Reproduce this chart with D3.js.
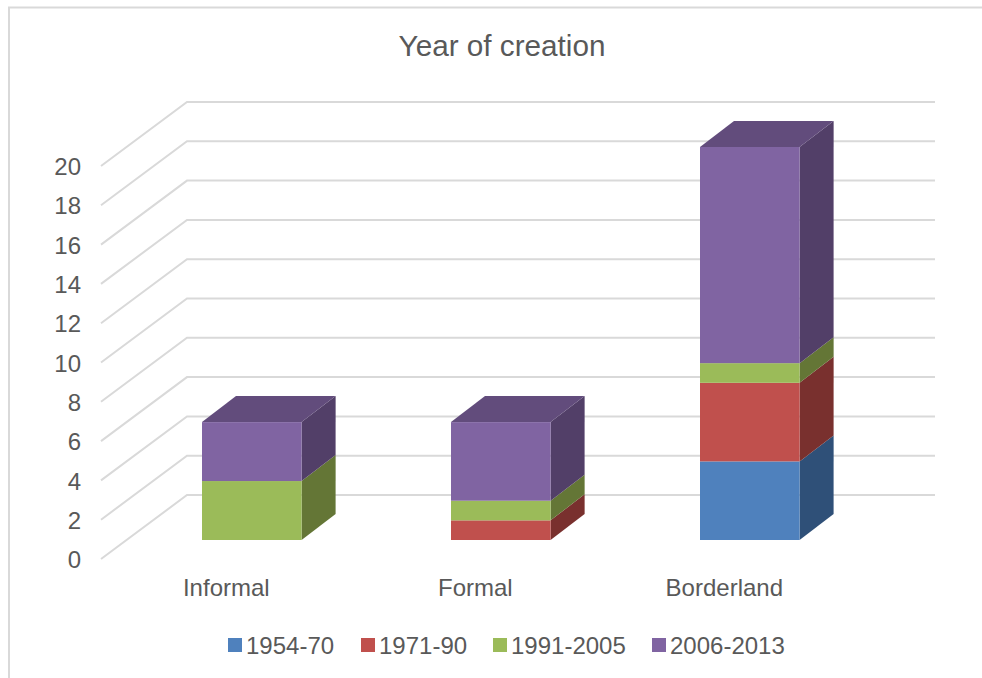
<!DOCTYPE html>
<html><head><meta charset="utf-8">
<script src="https://cdn.jsdelivr.net/npm/d3@7/dist/d3.min.js"></script>
<style>html,body{margin:0;padding:0;background:#fff}svg{display:block}text{font-family:"Liberation Sans",Arial,sans-serif;fill:#595959}</style>
</head><body><svg id="c" width="982" height="678"></svg>
<script>
const title = "Year of creation";
const categories = ["Informal", "Formal", "Borderland"];
const seriesNames = ["1954-70", "1971-90", "1991-2005", "2006-2013"];
const s1954 = [0, 0, 4];
const s1971 = [0, 1, 4];
const s1991 = [3, 1, 1];
const s2006 = [3, 4, 11];
const seriesValues = [s1954, s1971, s1991, s2006];
const yTicks = [0, 2, 4, 6, 8, 10, 12, 14, 16, 18, 20];
const colFront = ["#4f81bd", "#c0504d", "#9bbb59", "#8064a2"];
const colSide = ["#2f5078", "#79302e", "#647636", "#523f68"];
const colTop = ["#3b659a", "#9a3f3d", "#7c9647", "#624c7c"];

const svg = d3.select("#c");
// frame
svg.append("path").attr("d", "M9,678V7.5H982").attr("fill", "none").attr("stroke", "#d9d9d9").attr("stroke-width", 2);

const y = d3.scaleLinear().domain([0, 20]).range([540, 147]);
const x = d3.scaleBand().domain(categories).range([127.3, 874.3]).paddingInner(0.6).paddingOuter(0.3);
// wall: front edge and back edge of the 3D walls
const wallFrontX = 101, wallBackX = 187, wallRight = 935, wallBackDy = -45, wallFrontDy = 19;
const barDx = 34, barDy = -26;

const grid = svg.append("g").attr("fill", "none").attr("stroke", "#d9d9d9").attr("stroke-width", 2);
yTicks.forEach(t => {
  const yy = y(t);
  grid.append("path").attr("d", `M${wallFrontX},${yy + wallFrontDy}L${wallBackX},${yy + wallBackDy}H${wallRight}`);
});

const bars = svg.append("g");
categories.forEach((c, i) => {
  let acc = 0, topIdx = -1;
  const x0 = x(c), w = x.bandwidth();
  seriesValues.forEach((vals, s) => {
    const v = vals[i];
    if (!v) return;
    const yb = y(acc), yt = y(acc + v);
    bars.append("path").attr("fill", colSide[s])
      .attr("d", `M${x0 + w},${yb}L${x0 + w + barDx},${yb + barDy}V${yt + barDy}L${x0 + w},${yt}Z`);
    bars.append("rect").attr("fill", colFront[s]).attr("x", x0).attr("y", yt).attr("width", w).attr("height", yb - yt);
    acc += v; topIdx = s;
  });
  const yt = y(acc);
  bars.append("path").attr("fill", colTop[topIdx])
    .attr("d", `M${x0},${yt}L${x0 + barDx},${yt + barDy}H${x0 + w + barDx}L${x0 + w},${yt}Z`);
});

// axes
const yAxisScale = y.copy().range([y(0) + wallFrontDy + 1, y(20) + wallFrontDy + 1]);
const ya = svg.append("g").attr("transform", "translate(84,0)")
  .call(d3.axisLeft(yAxisScale).tickValues(yTicks).tickSize(0).tickPadding(3));
ya.select(".domain").remove();
ya.selectAll("text").style("font-family", '"Liberation Sans",Arial,sans-serif').style("font-size", "24px").attr("fill", "#595959");

const xa = svg.append("g").attr("transform", "translate(-25.5,579)")
  .call(d3.axisBottom(x).tickSize(0).tickPadding(0));
xa.select(".domain").remove();
xa.selectAll("text").style("font-family", '"Liberation Sans",Arial,sans-serif').style("font-size", "24px").attr("fill", "#595959").attr("dy", "0.7em").attr("y", 0);

svg.append("text").attr("x", 502).attr("y", 56).attr("text-anchor", "middle").style("font-size", "29.7px").text(title);

// legend
const legX = d3.scaleOrdinal().domain(seriesNames).range([228, 361, 493, 652]);
const leg = svg.append("g");
seriesNames.forEach((n, i) => {
  leg.append("rect").attr("x", legX(n)).attr("y", 638).attr("width", 14).attr("height", 14).attr("fill", colFront[i]);
  leg.append("text").attr("x", legX(n) + 18).attr("y", 654).style("font-size", "24px").text(n);
});
</script></body></html>
